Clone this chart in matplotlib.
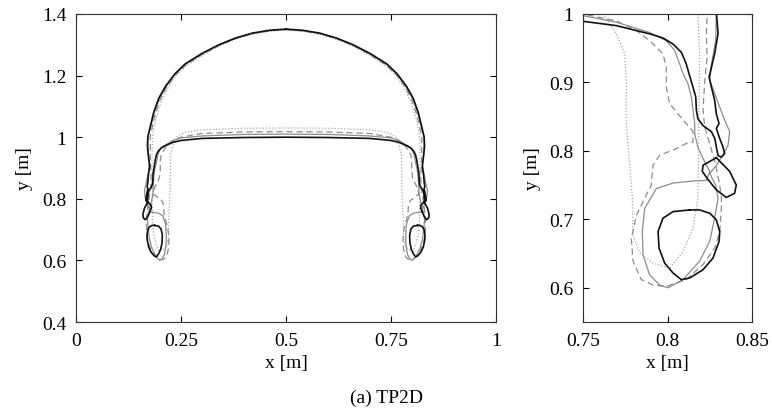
import numpy as np
import matplotlib
matplotlib.use("Agg")
import matplotlib.pyplot as plt

plt.rcParams['font.family'] = ['Liberation Serif', 'DejaVu Serif']
plt.rcParams['font.size'] = 14

# right half of each bubble contour, from the top centre clockwise
# round the skirt and back along the underside to x = 0.5
black_x = [0.500, 0.540, 0.580, 0.620, 0.660, 0.700, 0.740, 0.765, 0.787, 0.803,
           0.815, 0.823, 0.829, 0.8299, 0.8279, 0.826, 0.8246, 0.826, 0.8279,
           0.8289, 0.8305, 0.8289, 0.8309, 0.8328, 0.8338, 0.8319,
           0.830, 0.829, 0.828, 0.826, 0.821, 0.818, 0.8171, 0.8167, 0.8151,
           0.8127, 0.8111, 0.8082, 0.8033, 0.7973, 0.7894, 0.7697, 0.750, 0.700,
           0.600, 0.500]
black_y = [1.351, 1.347, 1.338, 1.322, 1.300, 1.272, 1.238, 1.205, 1.165, 1.126,
           1.080, 1.035, 1.000, 0.971, 0.942, 0.922, 0.908, 0.893, 0.874,
           0.854, 0.840, 0.833, 0.818, 0.806, 0.796, 0.791,
           0.793, 0.804, 0.818, 0.828, 0.837, 0.847, 0.859, 0.879, 0.893,
           0.913, 0.927, 0.944, 0.956, 0.965, 0.971, 0.983, 0.9893, 0.996,
           0.999, 1.000]
# detached drops of the black contour
drop1_x = [0.8289, 0.8368, 0.8407, 0.8397, 0.8348, 0.8289, 0.824, 0.8206, 0.821, 0.8289]
drop1_y = [0.790, 0.770, 0.750, 0.738, 0.732, 0.743, 0.758, 0.770, 0.779, 0.790]
drop2_x = [0.8131, 0.8033, 0.7973, 0.7944, 0.795, 0.7983, 0.8033, 0.8082, 0.8131,
           0.821, 0.8269, 0.8305, 0.8309, 0.8289, 0.825, 0.819, 0.8131]
drop2_y = [0.7137, 0.7113, 0.7016, 0.6822, 0.658, 0.6361, 0.6215, 0.6118, 0.6143,
           0.6264, 0.6434, 0.6676, 0.6822, 0.6992, 0.7089, 0.7137, 0.7137]

gray_x = [0.500, 0.540, 0.580, 0.620, 0.660, 0.700, 0.740, 0.765, 0.786, 0.802,
          0.814, 0.822, 0.8289, 0.8285, 0.826, 0.825, 0.8279, 0.8309, 0.8338,
          0.8368, 0.8358, 0.8328, 0.8289, 0.825, 0.8285, 0.8299, 0.8279, 0.825,
          0.819, 0.8092, 0.8003, 0.7954, 0.7894, 0.7855, 0.7851, 0.7865, 0.7934,
          0.8033, 0.8151, 0.823, 0.825, 0.821, 0.818, 0.8161, 0.8161, 0.8151,
          0.8141, 0.8121, 0.8092, 0.8072, 0.8042, 0.7993, 0.7894, 0.7697, 0.750,
          0.700, 0.600, 0.500]
gray_y = [1.350, 1.346, 1.337, 1.321, 1.299, 1.270, 1.236, 1.203, 1.163, 1.124,
          1.078, 1.034, 1.000, 0.961, 0.927, 0.903, 0.884, 0.864, 0.845,
          0.828, 0.808, 0.794, 0.779, 0.767, 0.750, 0.731, 0.702, 0.668,
          0.639, 0.612, 0.600, 0.604, 0.619, 0.648, 0.682, 0.716, 0.745,
          0.753, 0.756, 0.757, 0.770, 0.789, 0.805, 0.825, 0.840, 0.859,
          0.879, 0.898, 0.913, 0.927, 0.947, 0.961, 0.973, 0.988, 0.9976,
          1.004, 1.009, 1.010]

dash_x = [0.500, 0.540, 0.580, 0.620, 0.660, 0.700, 0.740, 0.765, 0.785, 0.800,
          0.811, 0.818, 0.8234, 0.823, 0.8234, 0.822, 0.821, 0.822, 0.825, 0.828,
          0.8309, 0.8319, 0.8319, 0.8309, 0.8279, 0.821, 0.8111, 0.7993, 0.7914,
          0.7845, 0.7796, 0.7786, 0.7816, 0.7865, 0.7904, 0.7914, 0.7954, 0.8033,
          0.8111, 0.8151, 0.8151, 0.8111, 0.8062, 0.8013, 0.7993, 0.7993, 0.7973,
          0.7894, 0.7816, 0.7697, 0.750, 0.700, 0.600, 0.500]
dash_y = [1.349, 1.345, 1.336, 1.320, 1.297, 1.268, 1.233, 1.200, 1.160, 1.120,
          1.075, 1.035, 1.000, 0.971, 0.937, 0.900, 0.861, 0.835, 0.810, 0.785,
          0.750, 0.731, 0.716, 0.682, 0.658, 0.634, 0.612, 0.602, 0.604,
          0.612, 0.639, 0.672, 0.706, 0.731, 0.750, 0.779, 0.794, 0.801,
          0.811, 0.813, 0.828, 0.840, 0.854, 0.869, 0.893, 0.922, 0.942,
          0.961, 0.976, 0.990, 1.000, 1.012, 1.017, 1.018]

dot_x = [0.500, 0.540, 0.580, 0.620, 0.660, 0.700, 0.740, 0.765, 0.783, 0.797,
         0.808, 0.815, 0.818, 0.819, 0.8186, 0.818, 0.8151, 0.8092, 0.8013,
         0.7914, 0.7835, 0.7796, 0.7792, 0.7756, 0.7756, 0.7747, 0.7697, 0.7618,
         0.750, 0.740, 0.700, 0.600, 0.500]
dot_y = [1.348, 1.344, 1.334, 1.318, 1.295, 1.265, 1.229, 1.195, 1.155, 1.115,
         1.070, 1.030, 1.000, 0.942, 0.854, 0.731, 0.687, 0.653, 0.629,
         0.636, 0.651, 0.677, 0.731, 0.840, 0.903, 0.942, 0.971, 1.000,
         1.010, 1.016, 1.024, 1.029, 1.030]


def mirror(xs, ys):
    # whole closed contour from the right half (symmetric about x = 0.5)
    xs, ys = np.asarray(xs), np.asarray(ys)
    return (np.concatenate([xs, 1.0 - xs[::-1]]),
            np.concatenate([ys, ys[::-1]]))


curves = [
    (mirror(dot_x, dot_y), dict(color='#a8a8a8', lw=0.9, ls=(0, (1, 1.5)))),
    (mirror(dash_x, dash_y), dict(color='#8c8c8c', lw=0.9, ls=(0, (5, 3)))),
    (mirror(gray_x, gray_y), dict(color='#8c8c8c', lw=0.9, ls='-')),
    (mirror(black_x, black_y), dict(color='#111111', lw=1.2, ls='-')),
]

fig = plt.figure(figsize=(7.72, 4.14), dpi=100)
ax1 = fig.add_axes([0.0984, 0.2198, 0.5441, 0.7440])
ax2 = fig.add_axes([0.7552, 0.2198, 0.2189, 0.7440])

for ax in (ax1, ax2):
    for (cx, cy), style in curves:
        ax.plot(cx, cy, **style)
    for dx, dy in ((drop1_x, drop1_y), (drop2_x, drop2_y)):
        dx = np.asarray(dx)
        ax.plot(dx, dy, color='#111111', lw=1.2)
        ax.plot(1.0 - dx, dy, color='#111111', lw=1.2)
    ax.tick_params(direction='in', top=True, right=True, length=4, pad=7)
    for s in ax.spines.values():
        s.set_color('#333333')
    ax.set_xlabel('x [m]')
    ax.set_ylabel('y [m]', labelpad=6)

ax1.set_xlim(0, 1)
ax1.set_ylim(0.4, 1.4)
ax1.set_xticks([0, 0.25, 0.5, 0.75, 1])
ax1.set_xticklabels(['0', '0.25', '0.5', '0.75', '1'])
ax1.set_yticks([0.4, 0.6, 0.8, 1.0, 1.2, 1.4])
ax1.set_yticklabels(['0.4', '0.6', '0.8', '1', '1.2', '1.4'])

ax2.set_xlim(0.75, 0.85)
ax2.set_ylim(0.55, 1.0)
ax2.set_xticks([0.75, 0.8, 0.85])
ax2.set_xticklabels(['0.75', '0.8', '0.85'])
ax2.set_yticks([0.6, 0.7, 0.8, 0.9, 1.0])
ax2.set_yticklabels(['0.6', '0.7', '0.8', '0.9', '1'])

fig.text(0.5, 0.038, '(a) TP2D', ha='center', va='center', fontsize=14)

fig.savefig('out.png', dpi=100)
